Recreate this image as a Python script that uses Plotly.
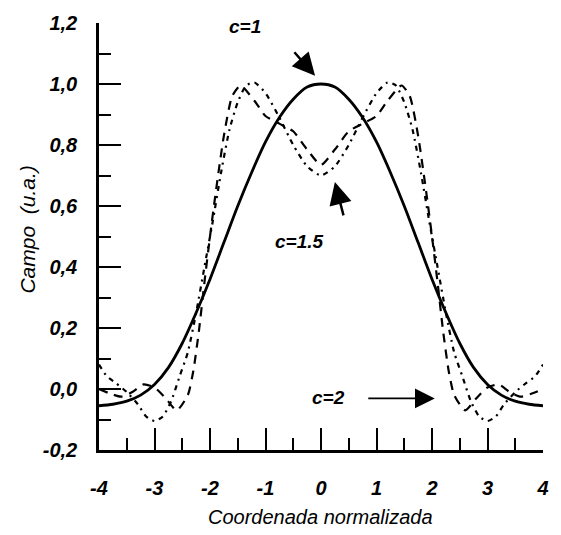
import plotly.graph_objects as go

# ---- data ----
x_c1 = [-4, -3.75, -3.5, -3.25, -3, -2.75, -2.5, -2.25, -2, -1.75, -1.5, -1.25, -1, -0.75, -0.5, -0.25,
        0, 0.25, 0.5, 0.75, 1, 1.25, 1.5, 1.75, 2, 2.25, 2.5, 2.75, 3, 3.25, 3.5, 3.75, 4]
y_c1 = [-0.055, -0.05, -0.04, -0.02, 0.015, 0.07, 0.15, 0.25, 0.36, 0.48, 0.60, 0.71, 0.81, 0.89, 0.95, 0.99,
        1.0, 0.99, 0.95, 0.89, 0.81, 0.71, 0.60, 0.48, 0.36, 0.25, 0.15, 0.07, 0.015, -0.02, -0.04, -0.05, -0.055]

x_c15 = [-4, -3.8, -3.6, -3.4, -3.2, -3.0, -2.8, -2.6, -2.4, -2.3, -2.2, -2.1, -2.0, -1.9, -1.75, -1.6, -1.45,
         -1.2, -1.0, -0.75, -0.5, -0.25, 0, 0.25, 0.5, 0.75, 1.0, 1.2, 1.45, 1.6, 1.75, 1.9, 2.0, 2.1, 2.2,
         2.3, 2.4, 2.6, 2.8, 3.0, 3.2, 3.4, 3.6, 3.8, 4]
y_c15 = [0.0, -0.015, -0.025, -0.01, 0.015, 0.005, -0.03, -0.07, -0.02, 0.06, 0.19, 0.35, 0.50, 0.64, 0.83, 0.96, 0.995,
         0.945, 0.895, 0.87, 0.845, 0.785, 0.735, 0.785, 0.845, 0.87, 0.895, 0.945, 0.995, 0.96, 0.83, 0.64, 0.50, 0.35, 0.19,
         0.06, -0.02, -0.07, -0.03, 0.005, 0.015, -0.01, -0.025, -0.015, 0.0]

x_c2 = [-4, -3.85, -3.7, -3.5, -3.3, -3.15, -3.0, -2.85, -2.7, -2.55, -2.4, -2.25, -2.1, -1.95, -1.8, -1.65, -1.5,
        -1.35, -1.2, -1.0, -0.75, -0.5, -0.25, 0, 0.25, 0.5, 0.75, 1.0, 1.2, 1.35, 1.5, 1.65, 1.8, 1.95, 2.1,
        2.25, 2.4, 2.55, 2.7, 2.85, 3.0, 3.15, 3.3, 3.5, 3.7, 3.85, 4]
y_c2 = [0.08, 0.04, 0.02, -0.01, -0.05, -0.09, -0.105, -0.09, -0.04, 0.04, 0.12, 0.25, 0.40, 0.55, 0.71, 0.85, 0.94,
        0.995, 1.005, 0.97, 0.89, 0.80, 0.73, 0.70, 0.73, 0.80, 0.89, 0.97, 1.005, 0.995, 0.94, 0.85, 0.71, 0.55, 0.40,
        0.25, 0.12, 0.04, -0.04, -0.09, -0.105, -0.09, -0.05, -0.01, 0.02, 0.04, 0.08]

x_ticks = [-4, -3, -2, -1, 0, 1, 2, 3, 4]
x_tick_text = ["-4", "-3", "-2", "-1", "0", "1", "2", "3", "4"]
x_minor = [-3.5, -2.5, -1.5, -0.5, 0.5, 1.5, 2.5, 3.5]
y_ticks = [-0.2, 0.0, 0.2, 0.4, 0.6, 0.8, 1.0, 1.2]
y_tick_text = ["-0,2", "0,0", "0,2", "0,4", "0,6", "0,8", "1,0", "1,2"]
y_minor = [-0.1, 0.1, 0.3, 0.5, 0.7, 0.9, 1.1]

FONT = "Liberation Sans, Arial, sans-serif"

fig = go.Figure()
fig.add_trace(go.Scatter(x=x_c1, y=y_c1, mode="lines",
                         line=dict(color="black", width=2.8, shape="spline", smoothing=0.8)))
fig.add_trace(go.Scatter(x=x_c15, y=y_c15, mode="lines",
                         line=dict(color="black", width=2.2, dash="9px,7px", shape="spline", smoothing=0.6)))
fig.add_trace(go.Scatter(x=x_c2, y=y_c2, mode="lines",
                         line=dict(color="black", width=2.2, dash="5px,5px,2px,5px", shape="spline", smoothing=0.6)))

tickfont = dict(family=FONT, size=20, color="black", style="italic", weight="bold")
axis_common = dict(showline=True, linecolor="black", linewidth=2.5, ticks="inside", ticklen=22,
                   tickwidth=2, tickcolor="black", showgrid=False, zeroline=False, tickfont=tickfont)

fig.update_xaxes(range=[-4, 4], tickvals=x_ticks, ticktext=x_tick_text, ticklabelstandoff=18,
                 minor=dict(ticks="inside", ticklen=12, tickwidth=2, tickcolor="black", tickvals=x_minor),
                 **axis_common)
fig.update_yaxes(range=[-0.2, 1.2], tickvals=y_ticks, ticktext=y_tick_text, ticklabelstandoff=15,
                 minor=dict(ticks="inside", ticklen=12, tickwidth=2, tickcolor="black", tickvals=y_minor),
                 **axis_common)

lblfont = dict(family=FONT, size=19, color="black", style="italic", weight="bold")
annotations = [
    dict(x=-1.375, y=1.19, text="c=1", showarrow=False, font=lblfont, xanchor="center", yanchor="middle"),
    dict(x=-0.39, y=0.483, text="c=1.5", showarrow=False, font=lblfont, xanchor="center", yanchor="middle"),
    dict(x=0.14, y=-0.028, text="c=2", showarrow=False, font=lblfont, xanchor="center", yanchor="middle"),
    dict(x=-0.107, y=1.027, text="", showarrow=True, ax=-22, ay=-25, arrowhead=2, arrowsize=1.8,
         arrowwidth=2.5, arrowcolor="black", standoff=0),
    dict(x=0.25, y=0.679, text="", showarrow=True, ax=9, ay=35, arrowhead=2, arrowsize=1.8,
         arrowwidth=2.5, arrowcolor="black", standoff=0),
    dict(x=2.05, y=-0.031, text="", showarrow=True, ax=-68, ay=0, arrowhead=2, arrowsize=2.2,
         arrowwidth=1.8, arrowcolor="black", standoff=0),
    dict(x=0.498, y=-0.158, xref="paper", yref="paper", text="Coordenada normalizada", showarrow=False,
         xanchor="center", yanchor="middle",
         font=dict(family=FONT, size=20, color="black", style="italic")),
    dict(x=-0.161, y=0.515, xref="paper", yref="paper", text="Campo&nbsp;&nbsp;(u.a.)", showarrow=False,
         xanchor="center", yanchor="middle", textangle=-90,
         font=dict(family=FONT, size=21, color="black", style="italic")),
]

fig.update_layout(width=561, height=535, margin=dict(l=99, r=14, t=20, b=85),
                  plot_bgcolor="white", paper_bgcolor="white", showlegend=False,
                  annotations=annotations)

fig.write_html("out.html")
